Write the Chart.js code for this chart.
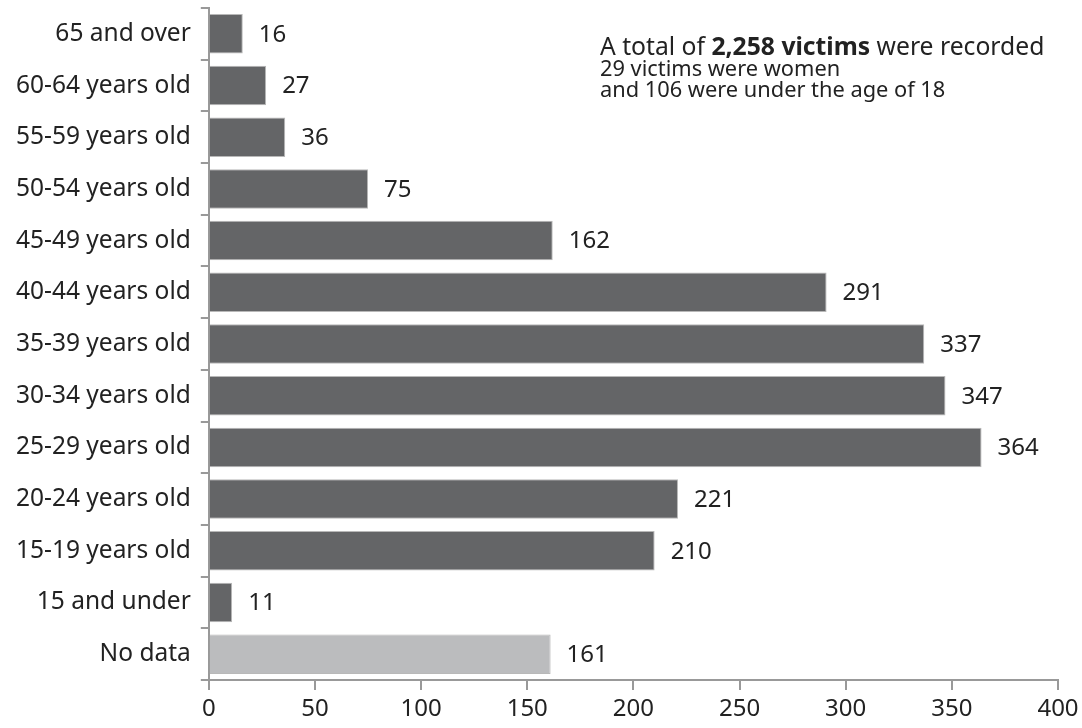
<!DOCTYPE html>
<html><head><meta charset="utf-8">
<script src="https://cdn.jsdelivr.net/npm/chart.js@4/dist/chart.umd.min.js"></script>
<style>html,body{margin:0;padding:0;background:#fff}#wrap{width:1082px;height:728px}</style>
</head><body><div id="wrap"><canvas id="c" width="1082" height="728"></canvas></div>
<script>
const categories = ["65 and over","60-64 years old","55-59 years old","50-54 years old","45-49 years old","40-44 years old","35-39 years old","30-34 years old","25-29 years old","20-24 years old","15-19 years old","15 and under","No data"];
const victims = [16,27,36,75,162,291,337,347,364,221,210,11,161];
const barColors = ["#646567","#646567","#646567","#646567","#646567","#646567","#646567","#646567","#646567","#646567","#646567","#646567","#bbbcbe"];
const xTicks = [0,50,100,150,200,250,300,350,400];
const noteLines = ["29 victims were women","and 106 were under the age of 18"];
const FONT = "'Noto Sans', sans-serif";

const labelPlugin = {
  id: 'labels',
  afterDatasetsDraw(chart) {
    const ctx = chart.ctx;
    const meta = chart.getDatasetMeta(0);
    ctx.save();
    ctx.fillStyle = '#222';
    ctx.font = "24px " + FONT;
    ctx.textBaseline = 'middle';
    ctx.textAlign = 'left';
    meta.data.forEach((bar, i) => {
      ctx.fillText(String(victims[i]), bar.x + 16, bar.y + 1);
    });
    ctx.textBaseline = 'alphabetic';
    let x = 600, y = 55;
    const parts = [["A total of ", "400"], ["2,258 victims", "700"], [" were recorded", "400"]];
    parts.forEach(([t, w]) => {
      ctx.font = w + " 24.7px " + FONT;
      ctx.fillText(t, x, y);
      x += ctx.measureText(t).width;
    });
    ctx.font = "21.8px " + FONT;
    ctx.fillText(noteLines[0], 600, 76);
    ctx.fillText(noteLines[1], 600, 97);
    ctx.restore();
  }
};

new Chart(document.getElementById('c'), {
  type: 'bar',
  data: {
    labels: categories,
    datasets: [{
      data: victims,
      backgroundColor: barColors,
      borderColor: '#b8b8b8',
      borderWidth: 1,
      categoryPercentage: 0.78,
      barPercentage: 0.98
    }]
  },
  options: {
    indexAxis: 'y',
    responsive: false,
    animation: false,
    layout: { padding: { top: 8, right: 24, left: 6, bottom: 0 } },
    plugins: { legend: { display: false }, tooltip: { enabled: false } },
    scales: {
      x: {
        min: 0, max: 400,
        afterBuildTicks(scale) { scale.ticks = xTicks.map(v => ({ value: v })); },
        afterFit(scale) { scale.paddingLeft = 0; scale.paddingRight = 0; scale.height = 48; },
        border: { color: '#999', width: 2 },
        grid: { drawOnChartArea: false, drawTicks: true, tickLength: 10, color: '#999', lineWidth: 2 },
        ticks: { color: '#222', font: { family: FONT, size: 24 }, padding: 5 }
      },
      y: {
        afterFit(scale) { scale.paddingTop = 0; scale.paddingBottom = 0; },
        border: { color: '#999', width: 2 },
        grid: { drawOnChartArea: false, drawTicks: true, tickLength: 8, color: '#999', lineWidth: 2, offset: true },
        ticks: { color: '#222', font: { family: FONT, size: 24.5 }, padding: 10 }
      }
    }
  },
  plugins: [labelPlugin]
});
</script></body></html>
